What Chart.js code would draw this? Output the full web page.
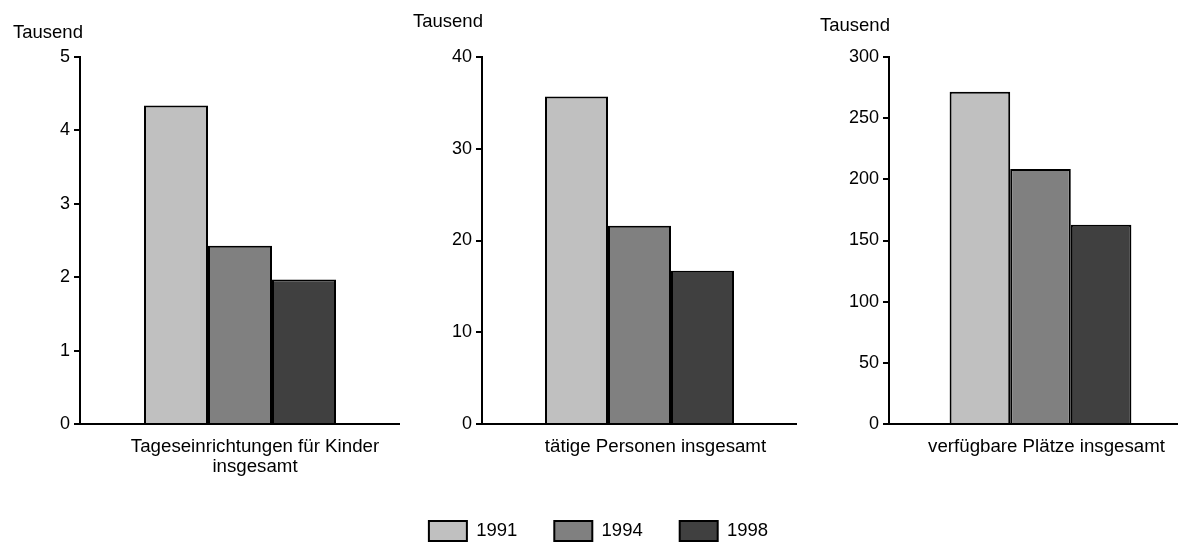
<!DOCTYPE html>
<html>
<head>
<meta charset="utf-8">
<script src="https://cdn.jsdelivr.net/npm/chart.js@4/dist/chart.umd.min.js"></script>
<style>
  html, body { margin: 0; padding: 0; background: #fff; overflow: hidden; width: 1178px; height: 543px; }
  .wrap { position: absolute; }
</style>
</head>
<body>
<div class="wrap" id="w1" style="left:0px;top:0px;width:400px;height:480px"><canvas id="c1"></canvas></div>
<div class="wrap" id="w2" style="left:402px;top:0px;width:395px;height:480px"><canvas id="c2"></canvas></div>
<div class="wrap" id="w3" style="left:809px;top:0px;width:383px;height:480px"><canvas id="c3"></canvas></div>
<div class="wrap" id="w4" style="left:0px;top:484px;width:1178px;height:160px"><canvas id="c4"></canvas></div>
<script>
// ---- data ----
const categories = [
  ['Tageseinrichtungen für Kinder', 'insgesamt'],
  ['tätige Personen insgesamt'],
  ['verfügbare Plätze insgesamt']
];
const years = ['1991', '1994', '1998'];
const values1991 = [4.34, 35.7, 271.6];
const values1994 = [2.43, 21.6, 208.5];
const values1998 = [1.97, 16.7, 162.9];
const yMax = [5, 40, 300];
const yStep = [1, 10, 50];
const unitLabel = 'Tausend';

// ---- styling ----
const FONT = "'Liberation Sans', Arial, sans-serif";
const fills = ['#c0c0c0', '#808080', '#404040'];
const unitPos = [ {x: 13, y: 38}, {x: 11, y: 27}, {x: 11, y: 31} ];
const labelShift = [15, 16, 6];

Chart.defaults.font.family = FONT;
Chart.defaults.font.size = 18;
Chart.defaults.color = '#000';
Chart.defaults.animation = false;

const unitPlugin = {
  id: 'unitText',
  afterDraw(chart, args, opts) {
    if (!opts || !opts.text) return;
    const ctx = chart.ctx;
    ctx.save();
    ctx.font = '18.5px ' + FONT;
    ctx.fillStyle = '#000';
    ctx.textAlign = 'left';
    ctx.textBaseline = 'alphabetic';
    ctx.fillText(opts.text, opts.x, opts.y);
    ctx.restore();
  }
};

const seriesValues = [values1991, values1994, values1998];

function makePanel(canvasId, idx) {
  const datasets = years.map((yr, s) => ({
    label: yr,
    data: [seriesValues[s][idx]],
    backgroundColor: fills[s],
    borderColor: '#000',
    borderWidth: 2,
    categoryPercentage: 0.6,
    barPercentage: 1.0
  }));
  return new Chart(document.getElementById(canvasId), {
    type: 'bar',
    data: { labels: [categories[idx]], datasets },
    plugins: [unitPlugin],
    options: {
      responsive: true,
      maintainAspectRatio: false,
      layout: { padding: { top: 57, left: 0, right: 0, bottom: 0 } },
      plugins: {
        legend: { display: false },
        tooltip: { enabled: false },
        unitText: { text: unitLabel, x: unitPos[idx].x, y: unitPos[idx].y }
      },
      scales: {
        x: {
          grid: { display: false, drawTicks: false },
          border: { display: true, color: '#000', width: 2 },
          ticks: { padding: 13, labelOffset: labelShift[idx], font: { size: 18.7, lineHeight: 1.08 }, color: '#000', maxRotation: 0, autoSkip: false },
          afterFit(scale) { scale.height = 56; }
        },
        y: {
          min: 0,
          max: yMax[idx],
          ticks: { stepSize: yStep[idx], padding: 4, font: { size: 18 }, color: '#000' },
          grid: { display: true, drawOnChartArea: false, drawTicks: true, tickLength: 6, color: '#000', lineWidth: 2 },
          border: { display: true, color: '#000', width: 2 },
          afterFit(scale) { scale.width = 80; }
        }
      }
    }
  });
}

makePanel('c1', 0);
makePanel('c2', 1);
makePanel('c3', 2);

// legend panel
new Chart(document.getElementById('c4'), {
  type: 'bar',
  data: {
    labels: [],
    datasets: years.map((yr, s) => ({
      label: yr, data: [], backgroundColor: fills[s], borderColor: '#000', borderWidth: 2
    }))
  },
  options: {
    responsive: true,
    maintainAspectRatio: false,
    layout: { padding: { left: 19, right: 0, top: 0, bottom: 0 } },
    scales: { x: { display: false }, y: { display: false } },
    plugins: {
      tooltip: { enabled: false },
      legend: {
        display: true,
        position: 'top',
        onClick: null,
        labels: { boxWidth: 38, boxHeight: 20, padding: 37, color: '#000', font: { size: 18.5 } }
      }
    }
  }
});
</script>
</body>
</html>
